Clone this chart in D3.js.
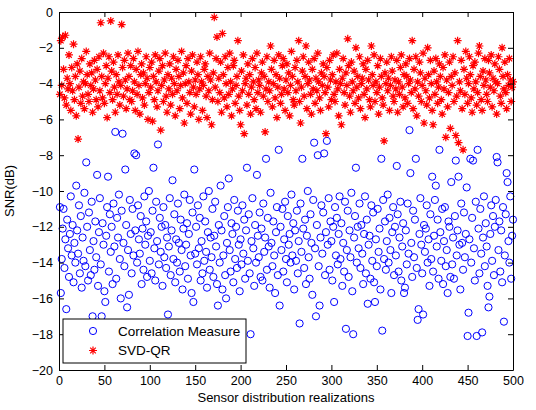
<!DOCTYPE html>
<html>
<head>
<meta charset="utf-8">
<script src="https://cdn.jsdelivr.net/npm/d3@7"></script>
<style>
  body { margin: 0; background: #fff; }
  svg text { font-family: "Liberation Sans", Arial, sans-serif; }
</style>
</head>
<body>
<div id="chart-area"></div>
<script>
// realization index 1..500
var xTicks = [0, 50, 100, 150, 200, 250, 300, 350, 400, 450, 500];
var yTicks = [0, -2, -4, -6, -8, -10, -12, -14, -16, -18, -20];
var seriesNames = ["Correlation Measure", "SVD-QR"];

var corrMeasure = [
  -10.9,-15.7,-13.8,-12.1,-11.0,-14.3,-12.7,-16.6,-11.6,-13.2,
  -14.8,-12.4,-10.3,-13.6,-11.9,-15.1,-12.9,-14.0,-9.7,-12.2,
  -13.5,-10.8,-14.6,-11.4,-15.4,-12.6,-13.9,-10.1,-14.2,-8.4,
  -12.0,-15.0,-11.2,-13.3,-14.7,-10.6,-17.0,-12.8,-14.4,-11.7,
  -13.7,-9.1,-15.3,-12.3,-10.4,-14.1,-17.0,-11.8,-13.0,-15.6,
  -16.2,-12.5,-10.9,-9.2,-14.5,-11.3,-13.4,-12.0,-15.2,-10.7,
  -13.1,-6.7,-14.9,-11.5,-12.6,-10.2,-13.8,-16.0,-11.1,-6.8,
  -12.9,-14.2,-8.8,-11.9,-16.5,-13.3,-15.8,-10.5,-12.4,-14.6,
  -11.0,-13.6,-7.9,-12.2,-8.0,-14.0,-10.8,-12.7,-13.5,-11.4,
  -15.2,-12.1,-14.4,-10.3,-13.0,-11.7,-14.8,-12.5,-10.0,-13.9,
  -12.3,-14.6,-11.1,-8.7,-13.2,-15.0,-10.6,-12.8,-7.4,-14.1,
  -11.5,-13.4,-12.0,-15.3,-10.9,-13.7,-11.9,-14.3,-12.6,-16.9,
  -13.1,-10.4,-14.7,-12.2,-9.4,-13.8,-11.3,-15.1,-12.7,-14.0,
  -10.7,-12.9,-14.5,-11.6,-13.3,-15.5,-12.1,-10.2,-14.2,-13.0,
  -11.8,-14.9,-12.4,-10.5,-13.6,-15.7,-11.2,-16.2,-8.8,-13.5,
  -12.0,-14.1,-10.8,-13.2,-11.5,-15.0,-12.8,-14.6,-10.3,-13.9,
  -11.7,-13.4,-15.4,-12.3,-10.0,-14.4,-12.6,-13.7,-11.0,-14.8,
  -12.5,-10.6,-13.1,-15.2,-16.4,-11.9,-14.0,-9.7,-12.2,-15.5,
  -13.6,-11.4,-14.7,-16.0,-12.9,-10.9,-9.3,-13.3,-14.5,-11.8,
  -12.4,-15.1,-10.5,-13.8,-12.0,-14.3,-11.1,-13.0,-15.6,-12.7,
  -14.1,-10.8,-13.5,-11.6,-14.9,-12.2,-8.7,-13.9,-11.3,-14.6,
  -18.0,-12.8,-10.4,-13.2,-15.3,-11.9,-14.0,-9.1,-12.5,-13.7,
  -11.2,-14.8,-12.1,-15.0,-10.7,-13.4,-12.6,-8.2,-14.4,-11.5,
  -13.1,-15.4,-10.1,-12.9,-14.2,-11.7,-13.6,-15.7,-12.3,-10.9,
  -14.7,-7.7,-16.4,-12.0,-13.3,-11.0,-14.5,-12.7,-10.6,-13.8,
  -15.1,-11.4,-13.0,-12.4,-14.0,-10.2,-13.6,-11.8,-15.5,-12.2,
  -13.9,-11.1,-14.6,-12.8,-17.4,-10.7,-13.4,-8.2,-12.1,-14.3,
  -11.6,-15.2,-12.5,-10.0,-13.7,-14.9,-11.3,-12.9,-15.8,-10.5,
  -7.3,-13.2,-17.0,-11.9,-8.0,-14.2,-16.4,-12.6,-10.8,-13.5,
  -11.2,-7.9,-14.7,-12.3,-7.2,-13.0,-10.4,-14.4,-11.7,-12.8,
  -15.0,-12.0,-16.2,-10.9,-13.6,-11.5,-14.1,-12.4,-10.3,-13.8,
  -11.8,-15.3,-12.9,-14.5,-10.6,-17.7,-13.3,-11.1,-14.8,-12.2,
  -13.7,-10.1,-15.6,-18.0,-12.6,-11.4,-8.7,-14.0,-12.0,-13.2,
  -10.7,-14.3,-11.9,-13.5,-15.2,-12.4,-10.3,-14.6,-11.6,-16.3,
  -13.0,-12.5,-14.9,-10.8,-13.9,-11.2,-15.1,-16.2,-12.7,-14.2,
  -11.0,-13.4,-12.1,-15.5,-8.2,-17.8,-10.5,-13.8,-11.7,-14.4,
  -12.8,-10.2,-14.0,-11.5,-13.3,-15.7,-12.3,-10.9,-14.7,-12.0,
  -13.6,-8.6,-11.3,-14.5,-12.6,-10.6,-15.0,-13.1,-11.8,-15.7,
  -15.4,-12.2,-14.1,-10.7,-13.5,-6.6,-9.0,-12.9,-14.8,-11.1,
  -13.7,-11.6,-8.2,-14.3,-17.2,-16.6,-12.4,-10.4,-13.0,-14.6,
  -16.9,-11.9,-13.4,-12.1,-10.8,-14.0,-12.7,-15.3,-11.3,-13.8,
  -9.2,-14.5,-12.5,-10.5,-9.7,-13.1,-11.6,-14.9,-7.7,-12.3,
  -13.9,-11.0,-15.2,-12.8,-10.9,-14.2,-13.3,-15.7,-11.7,-12.0,
  -14.8,-9.5,-14.1,-12.6,-14.9,-11.4,-8.3,-13.6,-12.2,-9.2,
  -13.0,-15.5,-10.7,-12.9,-14.4,-11.2,-13.7,-12.4,-9.8,-18.1,
  -16.8,-12.7,-8.2,-14.0,-11.5,-8.3,-13.2,-15.0,-10.6,-18.1,
  -7.7,-12.1,-14.6,-11.0,-13.5,-17.9,-12.6,-10.3,-14.2,-11.8,
  -13.1,-15.3,-16.5,-15.9,-12.4,-10.8,-13.9,-11.4,-14.7,-12.0,
  -10.5,-8.1,-8.4,-13.3,-11.7,-14.5,-12.2,-15.1,-10.9,-17.3,
  -13.6,-11.3,-9.0,-9.5,-12.8,-14.0,-10.3,-14.9,-12.5,-11.6
];

var svdQR = [
  -4.6,-1.6,-4.1,-1.4,-3.2,-4.8,-1.3,-5.2,-3.7,-4.3,
  -2.4,-4.0,-5.5,-3.1,-4.4,-1.8,-4.9,-3.6,-5.8,-2.9,
  -7.1,-4.2,-3.3,-5.1,-2.6,-4.7,-3.9,-5.4,-4.0,-2.2,
  -3.5,-4.6,-5.0,-2.9,-4.1,-3.4,-5.6,-4.3,-2.7,-3.8,
  -4.9,-3.2,-5.3,-2.5,-4.4,-0.6,-3.6,-4.8,-2.3,-5.1,
  -4.0,-3.0,-5.9,-3.7,-2.5,-4.5,-0.5,-3.3,-4.9,-2.8,
  -4.2,-5.6,-3.5,-4.6,-2.4,-3.9,-5.2,-4.1,-0.7,-3.1,
  -4.7,-2.7,-3.8,-5.4,-4.3,-2.3,-3.6,-4.9,-3.0,-5.0,
  -4.4,-2.6,-3.9,-5.5,-3.2,-4.6,-2.2,-4.1,-5.7,-3.5,
  -2.9,-4.8,-3.4,-5.2,-4.0,-2.5,-3.7,-6.0,-4.5,-3.1,
  -4.2,-2.8,-6.1,-3.6,-4.9,-2.4,-3.9,-5.3,-4.4,-3.3,
  -2.6,-6.6,-4.1,-3.0,-5.0,-3.8,-2.3,-4.7,-5.6,-3.5,
  -4.3,-2.9,-5.2,-3.7,-4.6,-2.5,-4.0,-5.8,-3.2,-4.4,
  -2.7,-3.6,-5.4,-4.1,-2.2,-4.8,-3.4,-6.2,-4.0,-3.0,
  -5.1,-2.6,-3.9,-4.5,-5.7,-3.3,-2.4,-4.2,-5.3,-3.8,
  -4.6,-2.8,-3.5,-6.0,-4.3,-2.5,-3.9,-5.5,-4.1,-3.2,
  -2.9,-4.7,-5.9,-3.6,-4.4,-2.3,-3.8,-6.3,-4.9,-3.4,
  -0.3,-4.2,-2.6,-1.4,-5.0,-3.7,-4.5,-2.8,-5.6,-1.2,
  -3.5,-4.8,-2.5,-4.0,-5.3,-3.1,-4.6,-2.3,-3.9,-5.8,
  -4.3,-3.0,-2.7,-5.1,-4.1,-3.6,-1.6,-4.7,-5.5,-6.3,
  -3.3,-4.4,-2.4,-6.8,-4.0,-3.7,-5.2,-2.9,-4.6,-3.5,
  -5.7,-4.2,-2.6,-3.9,-4.9,-3.1,-5.4,-2.3,-4.5,-3.8,
  -4.1,-5.6,-3.4,-2.8,-4.7,-3.6,-6.7,-4.3,-2.5,-5.0,
  -3.9,-4.4,-1.9,-3.2,-5.3,-4.0,-2.7,-4.8,-3.5,-5.9,
  -4.2,-2.4,-3.7,-5.1,-4.6,-3.0,-2.6,-4.3,-5.5,-3.8,
  -2.9,-4.5,-3.4,-5.8,-4.1,-2.2,-3.6,-4.9,-5.2,-3.1,
  -4.4,-2.7,-3.9,-1.6,-5.0,-6.2,-4.2,-3.3,-2.5,-4.7,
  -3.6,-1.9,-5.4,-4.0,-2.8,-3.8,-4.6,-5.7,-3.2,-4.3,
  -2.6,-5.1,-3.7,-4.4,-2.3,-3.9,-4.8,-5.5,-3.4,-4.1,
  -2.9,-3.6,-4.5,-6.8,-3.1,-4.2,-5.3,-2.7,-3.8,-4.9,
  -3.5,-2.4,-4.6,-5.0,-3.9,-2.3,-4.3,-5.8,-3.2,-4.0,
  -6.3,-3.7,-2.6,-4.5,-5.2,-3.4,-4.1,-1.5,-3.0,-4.7,
  -5.6,-2.8,-3.9,-4.4,-3.3,-5.1,-2.0,-4.2,-3.6,-4.8,
  -2.5,-5.4,-4.0,-3.7,-2.9,-4.6,-5.9,-3.2,-4.3,-2.7,
  -3.8,-4.9,-5.3,-1.9,-3.5,-4.1,-2.4,-5.0,-3.9,-4.5,
  -3.0,-5.7,-4.2,-2.6,-3.6,-4.8,-5.2,-7.2,-3.4,-4.0,
  -2.8,-4.4,-3.7,-5.5,-4.1,-2.5,-3.3,-4.7,-5.0,-3.8,
  -4.3,-2.7,-5.6,-3.9,-4.6,-3.1,-2.4,-4.2,-5.3,-3.5,
  -4.8,-2.9,-3.6,-5.1,-4.0,-2.6,-3.8,-4.5,-1.6,-5.4,
  -3.2,-4.3,-2.5,-5.8,-3.9,-4.7,-2.8,-3.4,-5.0,-4.1,
  -2.3,-6.2,-3.7,-4.4,-5.2,-2.0,-3.5,-4.8,-2.7,-4.0,
  -5.5,-6.3,-3.3,-4.6,-2.6,-3.9,-5.1,-4.2,-2.9,-3.6,
  -4.9,-5.7,-3.1,-4.3,-2.4,-7.0,-3.8,-5.3,-4.5,-2.8,
  -6.5,-3.6,-4.1,-2.5,-5.0,-3.4,-6.9,-4.7,-1.6,-7.3,
  -3.9,-4.4,-2.7,-5.4,-7.7,-3.2,-4.6,-2.2,-3.7,-5.1,
  -4.0,-2.5,-3.5,-4.8,-5.6,-3.0,-4.3,-2.8,-3.9,-5.2,
  -4.5,-2.3,-1.9,-3.6,-4.9,-5.5,-3.3,-4.1,-2.6,-3.8,
  -4.6,-5.0,-2.7,-3.4,-4.2,-2.4,-5.3,-3.7,-4.4,-2.9,
  -3.9,-5.7,-4.0,-2.5,-3.2,-4.7,-5.1,-2.0,-3.6,-4.3,
  -2.8,-4.5,-5.4,-3.5,-4.1,-2.6,-3.8,-5.0,-4.2,-3.9
];

var margin = {top: 12, right: 23, bottom: 40, left: 59};
var width = 536 - margin.left - margin.right;   // 454
var height = 410 - margin.top - margin.bottom;  // 358

var svg = d3.select('#chart-area')
    .append('svg')
        .attr('width', 536)
        .attr('height', 410);

var g = svg.append('g')
    .attr('transform', 'translate(' + margin.left + ',' + margin.top + ')');

var x = d3.scaleLinear().domain([0, 500]).range([0, width]);
var y = d3.scaleLinear().domain([-20, 0]).range([height, 0]);

// markers: blue circles first, red stars on top
g.append('g').selectAll('circle')
    .data(corrMeasure)
    .enter().append('circle')
        .attr('cx', (d, i) => x(i + 1))
        .attr('cy', d => y(d))
        .attr('r', 3.6)
        .attr('fill', 'none')
        .attr('stroke', '#0000ff')
        .attr('stroke-width', 1);

var r = 4, q = 2.8;
var starPath = 'M' + (-r) + ',0L' + r + ',0M0,' + (-r) + 'L0,' + r +
    'M' + (-q) + ',' + (-q) + 'L' + q + ',' + q + 'M' + (-q) + ',' + q + 'L' + q + ',' + (-q);

g.append('g').selectAll('path')
    .data(svdQR)
    .enter().append('path')
        .attr('transform', (d, i) => 'translate(' + x(i + 1) + ',' + y(d) + ')')
        .attr('d', starPath)
        .attr('fill', 'none')
        .attr('stroke', '#ff0000')
        .attr('stroke-width', 1.2);

// axes (matlab box with inward ticks)
var tick = 5;
var bottomAxis = d3.axisBottom(x).tickValues(xTicks).tickSizeInner(-tick).tickSizeOuter(0).tickPadding(6);
var leftAxis = d3.axisLeft(y).tickValues(yTicks).tickSizeInner(-tick).tickSizeOuter(0).tickPadding(6);
var topAxis = d3.axisTop(x).tickValues(xTicks).tickSizeInner(-tick).tickSizeOuter(0).tickFormat('');
var rightAxis = d3.axisRight(y).tickValues(yTicks).tickSizeInner(-tick).tickSizeOuter(0).tickFormat('');

g.append('g').attr('transform', 'translate(0,' + height + ')').call(bottomAxis);
g.append('g').call(leftAxis);
g.append('g').call(topAxis);
g.append('g').attr('transform', 'translate(' + width + ',0)').call(rightAxis);

g.selectAll('.domain, .tick line').attr('stroke', '#000');
g.selectAll('.tick text')
    .attr('font-size', '12.5px')
    .attr('font-family', '"Liberation Sans", Arial, sans-serif')
    .attr('fill', '#000');

// axis labels
g.append('text')
    .attr('x', width / 2)
    .attr('y', height + 32)
    .attr('text-anchor', 'middle')
    .attr('font-size', '13px')
    .text('Sensor distribution realizations');

g.append('text')
    .attr('transform', 'rotate(-90)')
    .attr('x', -height / 2)
    .attr('y', -45)
    .attr('text-anchor', 'middle')
    .attr('font-size', '13px')
    .text('SNR(dB)');

// legend
var legend = g.append('g')
    .attr('transform', 'translate(' + (63 - margin.left) + ',' + (319 - margin.top) + ')');

legend.append('rect')
    .attr('width', 183)
    .attr('height', 44)
    .attr('fill', '#fff')
    .attr('stroke', '#000')
    .attr('stroke-width', 1);

seriesNames.forEach((name, i) => {
    var row = legend.append('g')
        .attr('transform', 'translate(30,' + (12 + i * 19.5) + ')');
    if (i == 0) {
        row.append('circle')
            .attr('r', 3.6)
            .attr('fill', 'none')
            .attr('stroke', '#0000ff');
    } else {
        row.append('path')
            .attr('d', starPath)
            .attr('fill', 'none')
            .attr('stroke', '#ff0000')
            .attr('stroke-width', 1.2);
    }
    row.append('text')
        .attr('x', 25)
        .attr('y', 4.5)
        .attr('font-size', '13.5px')
        .text(name);
});
</script>
</body>
</html>
